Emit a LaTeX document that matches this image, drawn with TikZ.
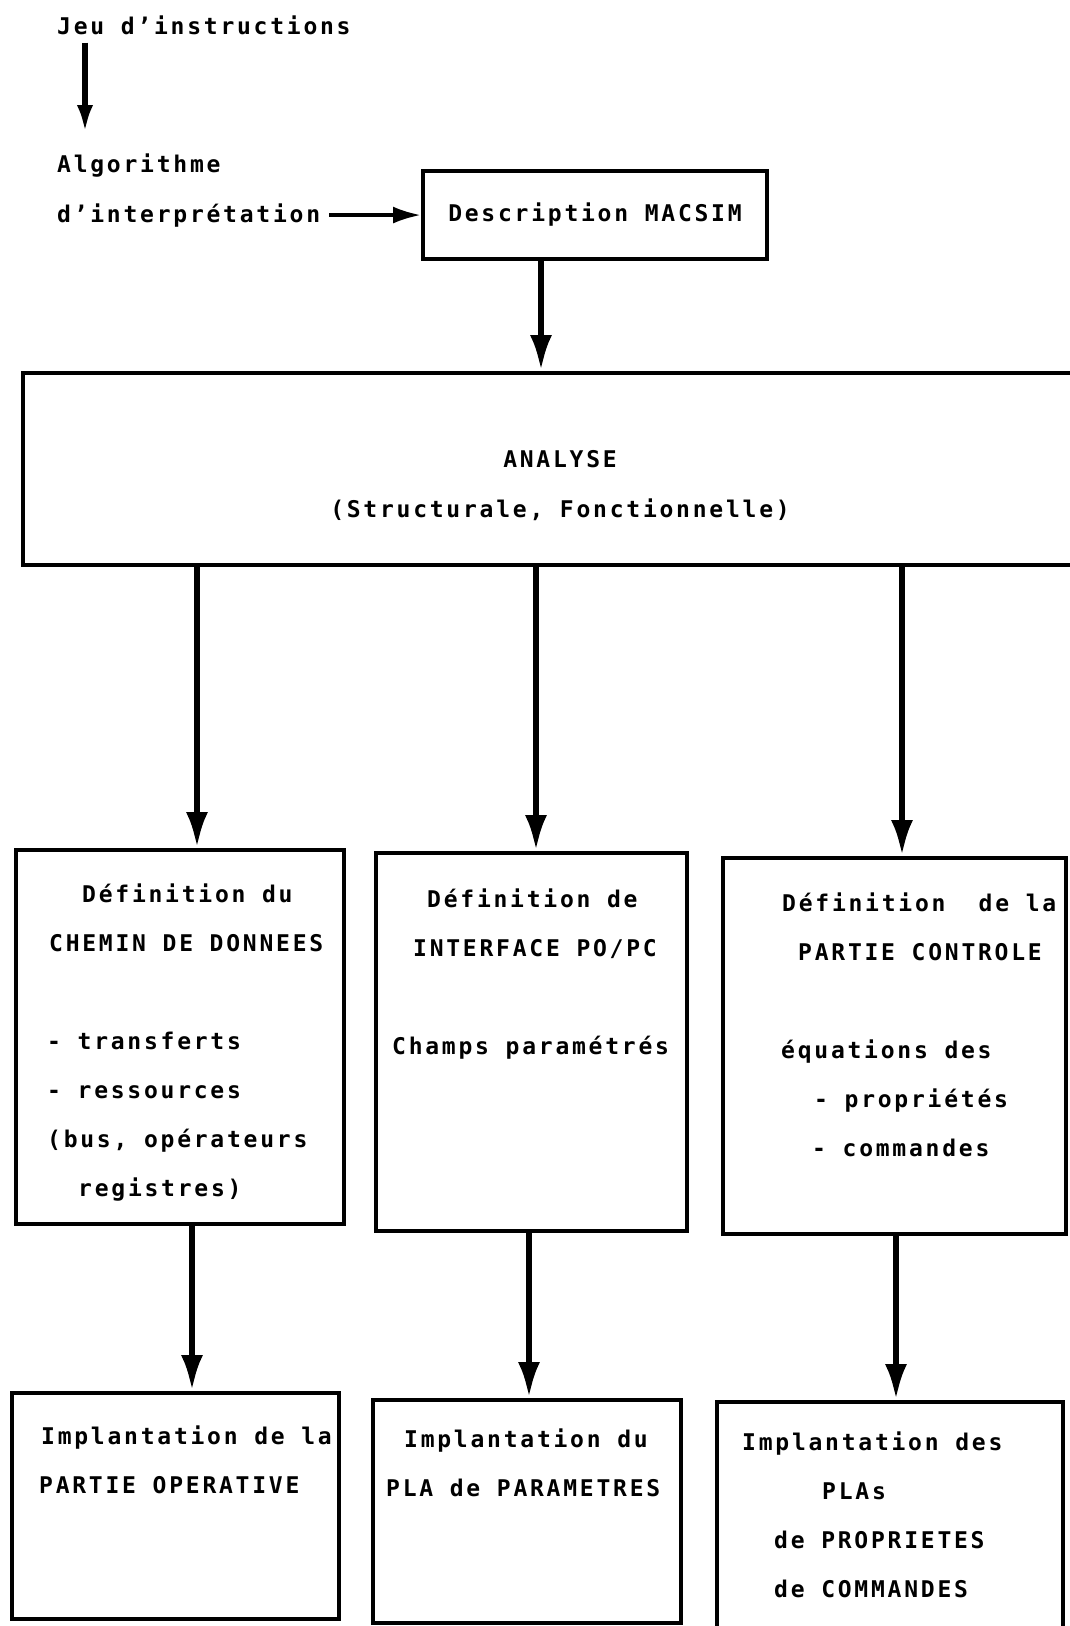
\documentclass[tikz,border=0pt]{standalone}
\usepackage{fontspec}
\setmainfont[LetterSpace=12]{DejaVu Sans Mono}
\usepackage{tikz}
\usetikzlibrary{arrows.meta, positioning, calc}

\begin{document}
\begin{tikzpicture}[x=1pt, y=-1pt,
        box/.style={rectangle, draw=black, line width=4pt, font=\fontsize{23}{49}\selectfont\bfseries},
        txt/.style={inner sep=0pt, font=\fontsize{23}{49}\selectfont\bfseries, align=left},
        arrow/.style={-{Latex[length=36pt,width=22pt]}, line width=6pt, draw=black},
        smallarrow/.style={-{Latex[length=28pt,width=16pt]}, line width=6pt, draw=black}
    ]
    \useasboundingbox (0,0) rectangle (1069,1626);

    % Input: instruction set and interpretation algorithm
    \node[txt, anchor=base west] (jeu) at (57,34) {Jeu d'instructions};
    \node[txt, anchor=base west] (algo) at (57,172) {Algorithme};
    \node[txt, anchor=base west] (interp) at (57,222) {d'interprétation};
    \coordinate (col_jeu) at (85,0);
    \draw[smallarrow, shorten <=8pt, shorten >=20pt] (jeu.south -| col_jeu) -- (algo.north -| col_jeu);

    % MACSIM description
    \node[box, minimum width=344pt, minimum height=88pt] (macsim) at (595,215) {Description MACSIM};
    \draw[-{Latex[length=28pt,width=17pt]}, line width=3.5pt, shorten <=9pt] (interp.east) -- (interp.east -| macsim.west);

    % Analysis
    \node[box, minimum width=1062pt, minimum height=192pt] (analyse) at (554,469) {};
    \node[txt, align=center] (analyse_txt) at (560,486) {ANALYSE\\[1pt](Structurale, Fonctionnelle)};
    \coordinate (col_macsim) at (541,0);
    \draw[arrow] (macsim.south -| col_macsim) -- (analyse.north -| col_macsim);

    % Definitions
    \node[box, minimum width=328pt, minimum height=374pt] (def_chemin) at (180,1037) {};
    \node[txt, anchor=north west] (chemin_txt) at (47,868) {\strut\hspace*{35pt}Définition du\\\hspace*{2pt}CHEMIN DE DONNEES\\[49pt]- transferts\\- ressources\\(bus, opérateurs\\\hspace*{31pt}registres)};

    \node[box, minimum width=311pt, minimum height=378pt] (def_interface) at (531.5,1042) {};
    \node[txt, anchor=north west] (interface_txt) at (392,873) {\strut\hspace*{35pt}Définition de\\\hspace*{21pt}INTERFACE PO/PC\\[49pt]Champs paramétrés};

    \node[box, minimum width=343pt, minimum height=376pt] (def_controle) at (894.5,1046) {};
    \node[txt, anchor=north west] (controle_txt) at (781,877) {\strut\hspace*{1pt}Définition\ \ de la\\\hspace*{17pt}PARTIE CONTROLE\\[49pt]équations des\\\hspace*{33pt}- propriétés\\\hspace*{31pt}- commandes};

    \coordinate (col_chemin) at (197,0);
    \coordinate (col_interface) at (536,0);
    \coordinate (col_controle) at (902,0);
    \draw[arrow] (analyse.south -| col_chemin) -- (def_chemin.north -| col_chemin);
    \draw[arrow] (analyse.south -| col_interface) -- (def_interface.north -| col_interface);
    \draw[arrow] (analyse.south -| col_controle) -- (def_controle.north -| col_controle);

    % Implementations
    \node[box, minimum width=327pt, minimum height=226pt] (impl_po) at (175.5,1506) {};
    \node[txt, anchor=north west] (po_txt) at (39,1410) {\strut\hspace*{2pt}Implantation de la\\PARTIE OPERATIVE};

    \node[box, minimum width=308pt, minimum height=223pt] (impl_pla) at (527,1511.5) {};
    \node[txt, anchor=north west] (pla_txt) at (386,1413) {\strut\hspace*{18pt}Implantation du\\PLA de PARAMETRES};

    \node[box, minimum width=346pt, minimum height=232pt] (impl_plas) at (890,1518) {};
    \node[txt, anchor=north west] (plas_txt) at (742,1416) {\strut Implantation des\\\hspace*{80pt}PLAs\\\hspace*{32pt}de PROPRIETES\\\hspace*{32pt}de COMMANDES};

    \coordinate (col_po) at (192,0);
    \coordinate (col_pla) at (529,0);
    \coordinate (col_plas) at (896,0);
    \draw[arrow] (def_chemin.south -| col_po) -- (impl_po.north -| col_po);
    \draw[arrow] (def_interface.south -| col_pla) -- (impl_pla.north -| col_pla);
    \draw[arrow] (def_controle.south -| col_plas) -- (impl_plas.north -| col_plas);

\end{tikzpicture}
\end{document}
